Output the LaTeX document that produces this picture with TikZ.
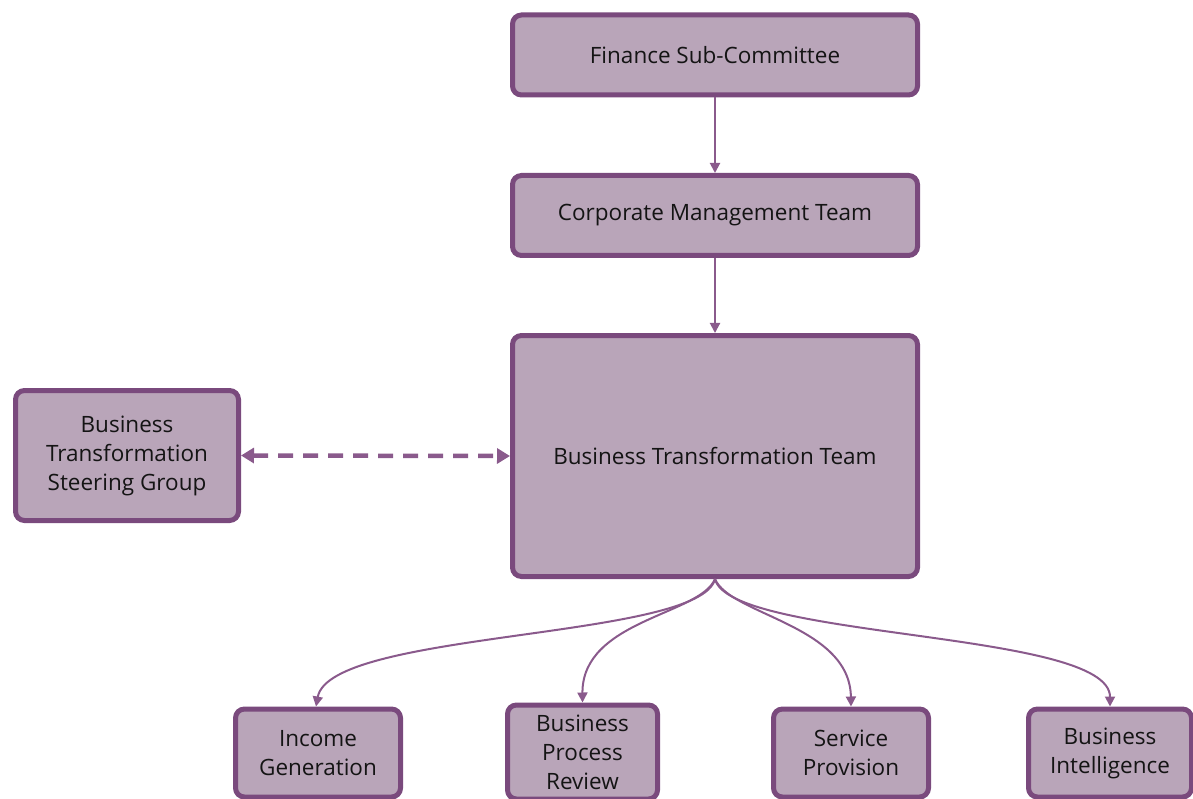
\documentclass[tikz,border=0pt]{standalone}
\usepackage{fontspec}
\setmainfont{Open Sans}
\usetikzlibrary{arrows.meta}
\definecolor{boxfill}{HTML}{B9A5B9}
\definecolor{boxline}{HTML}{7A4A7D}
\definecolor{linkcol}{HTML}{8A5A8C}
\definecolor{txt}{HTML}{141414}
\tikzset{
  unit/.style={draw=boxline, fill=boxfill, line width=5pt, rounded corners=9pt,
    inner sep=0pt, text=txt, font=\fontsize{22.5}{29}\selectfont, align=center},
  link/.style={draw=linkcol, line width=2pt, -{Triangle[width=10pt,length=10pt]}},
  peer/.style={draw=linkcol, line width=4.5pt, dash pattern=on 15pt off 10pt,
    {Triangle[width=15pt,length=13pt]}-{Triangle[width=15pt,length=13pt]}}
}
\begin{document}
\begin{tikzpicture}[x=1pt,y=-1pt]
\useasboundingbox (0,0) rectangle (1193,799);
% upper chain
\node[unit, minimum width=405pt, minimum height=80pt] (fsc) at (715,55) {Finance Sub-Committee};
\node[unit, minimum width=405pt, minimum height=80pt] (cmt) at (715,215.5) {Corporate Management Team};
\node[unit, minimum width=405pt, minimum height=241pt] (btt) at (715,456) {Business Transformation Team};
% steering group on the left
\node[unit, minimum width=223pt, minimum height=130pt] (bts) at (127,455.5) {Business\\Transformation\\Steering Group};
% workstreams along the bottom
\node[unit, minimum width=165pt, minimum height=88pt] (ig) at (318,753) {Income\\Generation};
\node[unit, minimum width=150pt, minimum height=94pt] (bpr) at (582.5,752) {Business\\Process\\Review};
\node[unit, minimum width=155pt, minimum height=88pt] (sp) at (851,753) {Service\\Provision};
\node[unit, minimum width=163pt, minimum height=88pt] (bi) at (1110,753) {Business\\Intelligence};
% reporting lines
\draw[link] (fsc.south) -- (cmt.north);
\draw[link] (cmt.south) -- (btt.north);
\draw[peer] (bts.east) -- (btt.west);
% fan-out to the workstreams
\draw[link] (btt.south) .. controls (700,640) and (330,630) .. ([xshift=-2pt]ig.north);
\draw[link] (btt.south) .. controls (700,615) and (582,620) .. (bpr.north);
\draw[link] (btt.south) .. controls (730,615) and (850,625) .. (sp.north);
\draw[link] (btt.south) .. controls (730,640) and (1110,630) .. (bi.north);
\end{tikzpicture}
\end{document}
